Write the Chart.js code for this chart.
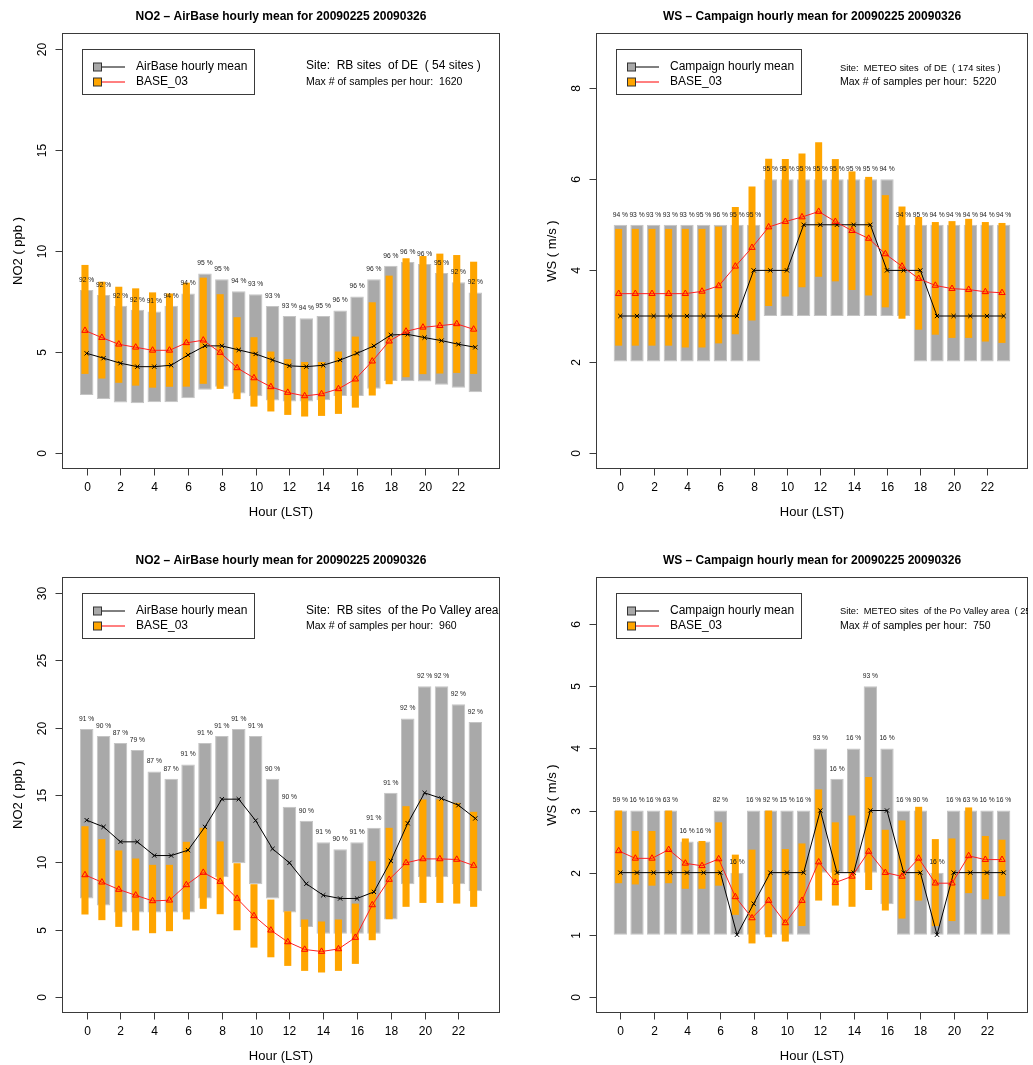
<!DOCTYPE html>
<html>
<head>
<meta charset="utf-8">
<script src="https://cdn.jsdelivr.net/npm/chart.js@4.4.1/dist/chart.umd.min.js"></script>
<style>
  html, body { margin: 0; padding: 0; background: #fff; width: 1033px; height: 1065px; overflow: hidden; }
  canvas { position: absolute; }
</style>
</head>
<body>
<canvas id="p1" style="left:0;top:0" width="516" height="544"></canvas>
<canvas id="p2" style="left:516px;top:0" width="517" height="544"></canvas>
<canvas id="p3" style="left:0;top:544px" width="516" height="521"></canvas>
<canvas id="p4" style="left:516px;top:544px" width="517" height="521"></canvas>
<script>
// Hours of the day (LST)
const hours = [0,1,2,3,4,5,6,7,8,9,10,11,12,13,14,15,16,17,18,19,20,21,22,23];
const hourTicks = [0,2,4,6,8,10,12,14,16,18,20,22];

// ---- NO2, RB sites of DE ----
const no2DeObsLow  = [2.86,2.67,2.49,2.46,2.51,2.51,2.71,3.12,3.28,2.94,2.80,2.59,2.54,2.54,2.61,2.82,2.82,3.17,3.56,3.55,3.53,3.38,3.22,3.00];
const no2DeObsHigh = [8.07,7.82,7.29,7.09,7.00,7.29,7.89,8.88,8.60,8.00,7.86,7.28,6.78,6.67,6.78,7.05,7.74,8.60,9.27,9.46,9.36,8.91,8.45,7.95];
const no2DeModLow  = [3.91,3.68,3.47,3.33,3.23,3.28,3.28,3.42,3.17,2.66,2.29,2.05,1.88,1.80,1.83,1.93,2.24,2.84,3.40,3.75,3.90,3.93,3.96,3.91];
const no2DeModHigh = [9.31,8.48,8.23,8.15,7.95,7.90,8.43,8.68,7.86,6.72,5.73,5.02,4.64,4.50,4.50,5.02,5.76,7.46,8.78,9.64,9.75,9.87,9.80,9.47];
const no2DeObsMean = [4.93,4.69,4.44,4.27,4.27,4.34,4.85,5.30,5.30,5.10,4.90,4.60,4.31,4.27,4.34,4.60,4.93,5.30,5.84,5.87,5.71,5.56,5.38,5.23];
const no2DeModMean = [6.06,5.71,5.38,5.23,5.08,5.08,5.45,5.58,4.97,4.21,3.71,3.27,2.99,2.82,2.92,3.17,3.65,4.54,5.53,6.02,6.22,6.30,6.39,6.12];
const no2DePct     = [92,92,92,92,91,94,94,95,95,94,93,93,93,94,95,96,96,96,96,96,96,95,92,92];

// ---- WS, METEO sites of DE ----
const wsDeObsLow  = [2,2,2,2,2,2,2,2,2,3,3,3,3,3,3,3,3,3,2,2,2,2,2,2];
const wsDeObsHigh = [5,5,5,5,5,5,5,5,5,6,6,6,6,6,6,6,6,5,5,5,5,5,5,5];
const wsDeModLow  = [2.35,2.35,2.35,2.35,2.31,2.31,2.40,2.60,2.90,3.22,3.43,3.63,3.86,3.76,3.57,3.45,3.19,2.94,2.70,2.59,2.52,2.52,2.44,2.41];
const wsDeModHigh = [4.91,4.91,4.91,4.91,4.91,4.91,4.96,5.39,5.84,6.45,6.44,6.56,6.81,6.44,6.17,6.05,5.65,5.40,5.17,5.06,5.08,5.13,5.06,5.04];
const wsDeObsMean = [3,3,3,3,3,3,3,3,4,4,4,5,5,5,5,5,4,4,4,3,3,3,3,3];
const wsDeModMean = [3.49,3.49,3.49,3.49,3.49,3.54,3.66,4.09,4.50,4.95,5.07,5.17,5.29,5.07,4.87,4.70,4.36,4.09,3.82,3.67,3.60,3.58,3.53,3.51];
const wsDePct     = [94,93,93,93,93,95,96,95,95,95,95,95,95,95,95,95,94,94,95,94,94,94,94,94];

// ---- NO2, RB sites of the Po Valley area ----
const no2PoObsLow  = [7.31,6.79,6.27,6.27,6.27,6.27,6.27,7.31,8.89,9.93,8.37,7.31,6.27,5.20,4.68,4.68,4.68,4.68,5.75,8.37,8.89,8.89,8.37,7.85];
const no2PoObsHigh = [19.90,19.38,18.86,18.34,16.75,16.20,17.27,18.86,19.38,19.90,19.38,16.20,14.12,13.08,11.49,10.97,11.49,12.56,15.16,20.69,23.09,23.09,21.75,20.42];
const no2PoModLow  = [6.12,5.70,5.20,4.93,4.73,4.88,5.75,6.54,6.14,4.95,3.66,2.94,2.30,1.93,1.81,1.93,2.45,4.21,5.77,6.69,6.98,6.98,6.93,6.69];
const no2PoModHigh = [12.68,11.72,10.88,10.28,9.81,9.81,11.52,12.56,11.55,9.93,8.37,7.23,6.36,5.75,5.60,5.75,6.93,10.08,12.56,14.17,14.67,14.67,14.42,13.75];
const no2PoObsMean = [13.13,12.63,11.52,11.52,10.50,10.50,10.90,12.63,14.69,14.69,13.10,11.00,9.96,8.40,7.55,7.31,7.31,7.80,10.10,12.90,15.16,14.74,14.24,13.26];
const no2PoModMean = [9.06,8.52,7.98,7.55,7.13,7.18,8.32,9.24,8.57,7.31,6.02,4.95,4.08,3.52,3.37,3.56,4.41,6.83,8.72,9.96,10.25,10.25,10.21,9.76];
const no2PoPct     = [91,90,87,79,87,87,91,91,91,91,91,90,90,90,91,90,91,91,91,92,92,92,92,92];

// ---- WS, METEO sites of the Po Valley area ----
const wsPoObsLow  = [1,1,1,1,1,1,1,1,1,1,1,1,2,2,2,2,1.49,1,1,1,1,1,1,1];
const wsPoObsHigh = [3,3,3,3,2.5,2.5,3,2,3,3,3,3,4,3.51,4,5,4,3,3,2,3,3,3,3];
const wsPoModLow  = [1.83,1.81,1.79,1.83,1.74,1.74,1.79,1.32,0.86,0.96,0.89,1.14,1.55,1.47,1.45,1.72,1.39,1.26,1.55,1.14,1.22,1.67,1.57,1.62];
const wsPoModHigh = [3.00,2.67,2.67,3.00,2.55,2.51,2.81,2.29,2.37,3.00,2.38,2.47,3.34,2.81,2.92,3.54,2.69,2.84,3.06,2.54,2.55,3.05,2.59,2.53];
const wsPoObsMean = [2,2,2,2,2,2,2,1,1.5,2,2,2,3,2,2,3,3,2,2,1,2,2,2,2];
const wsPoModMean = [2.35,2.23,2.23,2.37,2.15,2.11,2.22,1.61,1.27,1.55,1.19,1.55,2.17,1.84,1.94,2.34,2.00,1.94,2.23,1.83,1.83,2.27,2.21,2.21];
const wsPoPct     = [59,16,16,63,16,16,82,16,16,92,15,16,93,16,16,93,16,16,90,16,16,63,16,16];

const FONT = "'Liberation Sans', Arial, Helvetica, sans-serif";
const GREY = '#a9a9a9';
const ORANGE = '#ffa500';

function pairs(lo, hi) { return hours.map((h, i) => ({ x: h, y: [lo[i], hi[i]] })); }
function points(v) { return hours.map((h, i) => ({ x: h, y: v[i] })); }

function makePanel(p) {
  const frame = {
    id: 'frame',
    afterDatasetsDraw(chart) {
      const { ctx, chartArea: a, scales } = chart;
      const x = scales.x, y = scales.y;
      const L = Math.round(a.left) + 0.5, R = Math.round(a.right) - 0.5;
      const T = Math.round(a.top) + 0.5, B = Math.round(a.bottom) - 0.5;
      ctx.save();

      // coverage percentages above each observation box
      ctx.fillStyle = '#1a1a1a';
      ctx.font = '6.7px ' + FONT;
      ctx.textAlign = 'center';
      ctx.textBaseline = 'middle';
      hours.forEach((h, i) => {
        ctx.fillText(p.pct[i] + ' %', x.getPixelForValue(h), y.getPixelForValue(p.obsHigh[i]) - 10);
      });

      // plot frame
      ctx.strokeStyle = '#3a3a3a';
      ctx.lineWidth = 1;
      ctx.strokeRect(L, T, R - L, B - T);

      // y axis ticks and rotated labels
      ctx.fillStyle = '#000';
      ctx.font = '12px ' + FONT;
      p.yTicks.forEach(v => {
        const py = Math.round(y.getPixelForValue(v)) + 0.5;
        ctx.beginPath(); ctx.moveTo(L, py); ctx.lineTo(L - 7, py); ctx.stroke();
        ctx.save();
        ctx.translate(a.left - 19, py);
        ctx.rotate(-Math.PI / 2);
        ctx.textAlign = 'center'; ctx.textBaseline = 'middle';
        ctx.fillText(String(v), 0, 0);
        ctx.restore();
      });

      // x axis ticks and labels
      hourTicks.forEach(h => {
        const px = Math.round(x.getPixelForValue(h)) + 0.5;
        ctx.beginPath(); ctx.moveTo(px, B); ctx.lineTo(px, B + 7); ctx.stroke();
        ctx.textAlign = 'center'; ctx.textBaseline = 'middle';
        ctx.fillText(String(h), px, a.bottom + 19);
      });

      // axis titles
      ctx.font = '13px ' + FONT;
      ctx.fillText('Hour (LST)', (a.left + a.right) / 2, a.bottom + 43);
      ctx.save();
      ctx.translate(a.left - 44, (a.top + a.bottom) / 2);
      ctx.rotate(-Math.PI / 2);
      ctx.fillText(p.yTitle, 0, 0);
      ctx.restore();

      // main title
      ctx.font = 'bold 12px ' + FONT;
      ctx.fillText(p.title, (a.left + a.right) / 2, a.top - 16);

      // legend
      ctx.font = '12px ' + FONT;
      const tx = a.left + 74;
      const tw = Math.max(ctx.measureText(p.legendLabel).width, ctx.measureText('BASE_03').width);
      const bx = Math.round(a.left + 19.7) + 0.5, by = Math.round(a.top + 16.3) + 0.5;
      const bw = Math.round(tx + tw + 7 - bx), bh = 45;
      ctx.strokeStyle = '#3a3a3a';
      ctx.strokeRect(bx, by, bw, bh);
      const rows = [
        { y: a.top + 33.5, fill: GREY, line: '#000', text: p.legendLabel },
        { y: a.top + 48.5, fill: ORANGE, line: '#ff0000', text: 'BASE_03' }
      ];
      rows.forEach(r => {
        ctx.strokeStyle = r.line;
        ctx.beginPath(); ctx.moveTo(a.left + 39, r.y + 0.5); ctx.lineTo(a.left + 63, r.y + 0.5); ctx.stroke();
        ctx.fillStyle = r.fill;
        ctx.fillRect(a.left + 31.5, r.y - 3.5, 8, 8);
        ctx.strokeStyle = '#333';
        ctx.strokeRect(a.left + 31.5, r.y - 3.5, 8, 8);
        ctx.fillStyle = '#000';
        ctx.textAlign = 'left';
        ctx.fillText(r.text, tx, r.y);
      });

      // site description, clipped to the plot region
      ctx.save();
      ctx.beginPath(); ctx.rect(a.left, a.top, a.right - a.left, a.bottom - a.top); ctx.clip();
      ctx.textAlign = 'left';
      ctx.font = p.siteFont + 'px ' + FONT;
      ctx.fillText(p.site, a.left + 244, a.top + p.siteDy);
      ctx.font = '10.5px ' + FONT;
      ctx.fillText(p.maxText, a.left + 244, a.top + 49.5);
      ctx.restore();

      ctx.restore();
    }
  };

  return new Chart(document.getElementById(p.id), {
    type: 'bar',
    data: {
      datasets: [
        { type: 'bar', label: p.legendLabel, xAxisID: 'x', data: pairs(p.obsLow, p.obsHigh),
          backgroundColor: GREY, borderColor: '#c4c4c4', borderWidth: 1, borderSkipped: false,
          barPercentage: 0.8, categoryPercentage: 1, grouped: false, order: 3 },
        { type: 'bar', label: 'BASE_03', xAxisID: 'xm', data: pairs(p.modLow, p.modHigh),
          backgroundColor: ORANGE, borderWidth: 0,
          barPercentage: 0.42, categoryPercentage: 1, grouped: false, order: 2 },
        { type: 'line', label: p.legendLabel, xAxisID: 'x', data: points(p.obsMean),
          borderColor: '#000', borderWidth: 1, fill: false, tension: 0,
          pointStyle: 'crossRot', pointRadius: 3, pointBorderColor: '#000', pointBorderWidth: 1,
          pointBackgroundColor: 'rgba(0,0,0,0)', order: 1 },
        { type: 'line', label: 'BASE_03', xAxisID: 'xm', data: points(p.modMean),
          borderColor: '#ff2020', borderWidth: 1, fill: false, tension: 0,
          pointStyle: 'triangle', pointRadius: 3.6, pointBorderColor: '#ff0000', pointBorderWidth: 1,
          pointBackgroundColor: 'rgba(0,0,0,0)', order: 0 }
      ]
    },
    options: {
      responsive: false,
      animation: false,
      devicePixelRatio: 1,
      layout: { padding: p.pad },
      plugins: { legend: { display: false }, title: { display: false }, tooltip: { enabled: false } },
      scales: {
        x:  { type: 'linear', display: false, offset: false, bounds: 'data', min: -1.46, max: 24.46,
              ticks: { stepSize: 2, includeBounds: false } },
        xm: { type: 'linear', display: false, offset: false, bounds: 'data', min: -1.36, max: 24.56,
              ticks: { stepSize: 2, includeBounds: false } },
        y:  { type: 'linear', display: false, bounds: 'data', min: p.yMin, max: p.yMax }
      }
    },
    plugins: [frame]
  });
}

makePanel({
  id: 'p1', pad: { left: 62, top: 33, right: 16, bottom: 75 },
  title: 'NO2 \u2013 AirBase hourly mean for 20090225 20090326', yTitle: 'NO2 ( ppb )',
  yMin: -0.8, yMax: 20.8, yTicks: [0, 5, 10, 15, 20],
  legendLabel: 'AirBase hourly mean',
  site: 'Site:  RB sites  of DE  ( 54 sites )', siteFont: 12, siteDy: 32.5,
  maxText: 'Max # of samples per hour:  1620',
  obsLow: no2DeObsLow, obsHigh: no2DeObsHigh, modLow: no2DeModLow, modHigh: no2DeModHigh,
  obsMean: no2DeObsMean, modMean: no2DeModMean, pct: no2DePct
});

makePanel({
  id: 'p2', pad: { left: 80, top: 33, right: 0.5, bottom: 75 },
  title: 'WS \u2013 Campaign hourly mean for 20090225 20090326', yTitle: 'WS ( m/s )',
  yMin: -0.354, yMax: 9.204, yTicks: [0, 2, 4, 6, 8],
  legendLabel: 'Campaign hourly mean',
  site: 'Site:  METEO sites  of DE  ( 174 sites )', siteFont: 9.3, siteDy: 35.5,
  maxText: 'Max # of samples per hour:  5220',
  obsLow: wsDeObsLow, obsHigh: wsDeObsHigh, modLow: wsDeModLow, modHigh: wsDeModHigh,
  obsMean: wsDeObsMean, modMean: wsDeModMean, pct: wsDePct
});

makePanel({
  id: 'p3', pad: { left: 62, top: 33, right: 16, bottom: 52 },
  title: 'NO2 \u2013 AirBase hourly mean for 20090225 20090326', yTitle: 'NO2 ( ppb )',
  yMin: -1.2, yMax: 31.2, yTicks: [0, 5, 10, 15, 20, 25, 30],
  legendLabel: 'AirBase hourly mean',
  site: 'Site:  RB sites  of the Po Valley area  ( 32 sites )', siteFont: 12, siteDy: 33.5,
  maxText: 'Max # of samples per hour:  960',
  obsLow: no2PoObsLow, obsHigh: no2PoObsHigh, modLow: no2PoModLow, modHigh: no2PoModHigh,
  obsMean: no2PoObsMean, modMean: no2PoModMean, pct: no2PoPct
});

makePanel({
  id: 'p4', pad: { left: 80, top: 33, right: 0.5, bottom: 52 },
  title: 'WS \u2013 Campaign hourly mean for 20090225 20090326', yTitle: 'WS ( m/s )',
  yMin: -0.26, yMax: 6.76, yTicks: [0, 1, 2, 3, 4, 5, 6],
  legendLabel: 'Campaign hourly mean',
  site: 'Site:  METEO sites  of the Po Valley area  ( 25 sites )', siteFont: 9.3, siteDy: 34,
  maxText: 'Max # of samples per hour:  750',
  obsLow: wsPoObsLow, obsHigh: wsPoObsHigh, modLow: wsPoModLow, modHigh: wsPoModHigh,
  obsMean: wsPoObsMean, modMean: wsPoModMean, pct: wsPoPct
});
</script>
</body>
</html>
